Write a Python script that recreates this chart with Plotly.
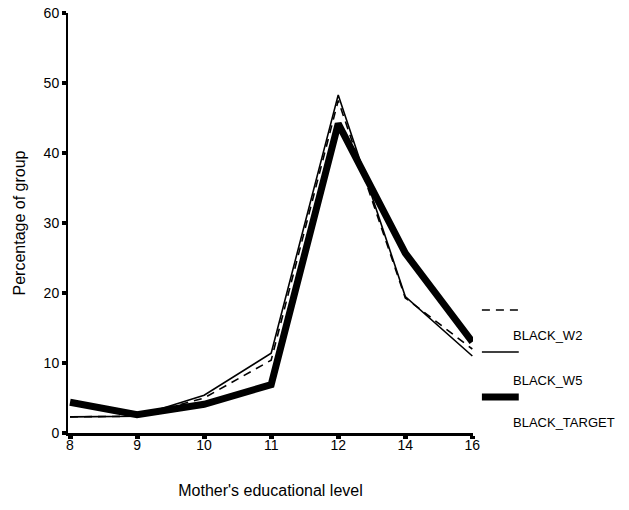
import plotly.graph_objects as go

categories = ["8", "9", "10", "11", "12", "14", "16"]
black_w2 = [2.3, 2.4, 5.0, 10.4, 47.5, 19.3, 12.0]
black_w5 = [2.3, 2.4, 5.4, 11.4, 48.3, 19.5, 11.0]
black_target = [4.4, 2.6, 4.1, 6.9, 44.2, 25.7, 13.0]
series_names = ["BLACK_W2", "BLACK_W5", "BLACK_TARGET"]
y_ticks = [0, 10, 20, 30, 40, 50, 60]

FONT = "Liberation Sans, Arial, Helvetica, sans-serif"

fig = go.Figure()
fig.add_trace(go.Scatter(x=categories, y=black_target, mode="lines", name=series_names[2],
                         line=dict(color="black", width=7), showlegend=False))
fig.add_trace(go.Scatter(x=categories, y=black_w5, mode="lines", name=series_names[1],
                         line=dict(color="black", width=1.6), showlegend=False))
fig.add_trace(go.Scatter(x=categories, y=black_w2, mode="lines", name=series_names[0],
                         line=dict(color="black", width=1.6, dash="8px,6px"), showlegend=False))

# custom legend: sample line above each label, on the right
legend_items = [
    (series_names[0], dict(color="black", width=1.6, dash="8px,6px"), 0.293, 0.233),
    (series_names[1], dict(color="black", width=1.6), 0.193, 0.126),
    (series_names[2], dict(color="black", width=7), 0.086, 0.024),
]
for name, ln, ly, ty in legend_items:
    fig.add_shape(type="line", xref="paper", yref="paper", x0=1.022, x1=1.113, y0=ly, y1=ly,
                  line=ln)
    fig.add_annotation(xref="paper", yref="paper", x=1.094, y=ty, text=name, showarrow=False,
                       xanchor="left", yanchor="middle",
                       font=dict(family=FONT, size=13, color="black"))

fig.update_layout(
    width=629, height=510,
    margin=dict(l=68, r=156, t=13, b=77),
    paper_bgcolor="white", plot_bgcolor="white",
    font=dict(family=FONT, color="black"),
    showlegend=False,
)
fig.update_xaxes(
    type="category", range=[-0.03, 6.01],
    showline=True, linecolor="black", linewidth=3,
    ticks="outside", ticklen=3, tickwidth=5, tickcolor="black",
    ticklabelstandoff=-6,
    showgrid=False, zeroline=False,
    automargin="bottom",
    tickfont=dict(family=FONT, size=14, color="black"),
    title=dict(text="Mother's educational level", font=dict(family=FONT, size=16, color="black"),
               standoff=34),
)
fig.update_yaxes(
    range=[0, 60], tickvals=y_ticks,
    showline=True, linecolor="black", linewidth=2,
    ticks="outside", ticklen=4, tickwidth=4, tickcolor="black",
    ticklabeloverflow="allow",
    automargin="left",
    showgrid=False, zeroline=False,
    tickfont=dict(family=FONT, size=14, color="black"),
    title=dict(text="Percentage of group", font=dict(family=FONT, size=16, color="black"),
               standoff=14),
)

fig.write_html("out.html", config={"displayModeBar": False},
               post_script="document.body.style.margin='0';")
